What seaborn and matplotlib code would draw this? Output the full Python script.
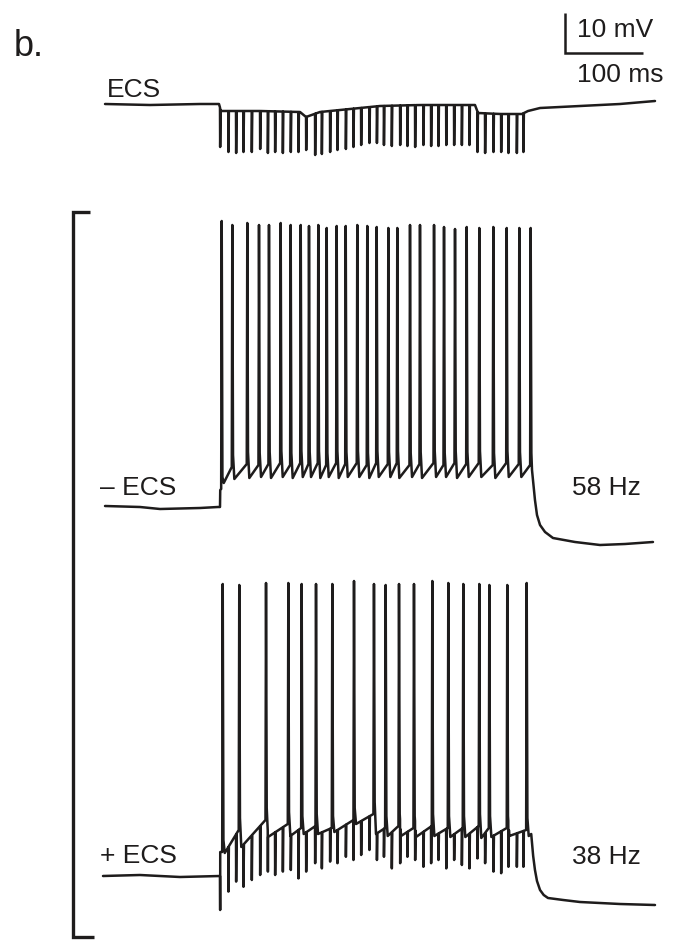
import numpy as np
import pandas as pd
import matplotlib
matplotlib.use("Agg")
import matplotlib.pyplot as plt
import seaborn as sns

# ---------------------------------------------------------------------------
# Recording values. Time in ms from the onset of the 400 ms current step,
# voltage in mV relative to the resting level of each trace.
# ---------------------------------------------------------------------------

# onsets of the extracellular stimulation (ECS) pulses
stim_times = [0.0, 10.6, 20.5, 29.9, 40.6, 51.3, 61.2, 70.5, 80.4, 90.6,
              100.4, 110.3, 121.8, 130.4, 141.0, 150.4, 161.2, 170.9, 180.8, 191.4,
              201.0, 210.0, 220.1, 230.8, 240.1, 250.0, 260.6, 270.5, 279.9, 289.9,
              300.0, 309.9, 319.6, 329.9, 339.7, 350.4, 360.3, 369.6, 380.4, 388.8]

# ECS alone: slow level of the trace and the tip of each pulse artefact
ecs_level_t = [-147.4, -89.7, -25.6, -1.3, 1.3, 51.3, 102.6, 110.3, 128.2, 166.7,
               205.1, 256.4, 326.9, 330.8, 359.0, 387.2, 394.9, 410.3, 461.5, 512.8, 557.7]
ecs_level_v = [0.25, 0.0, 0.25, 0.25, -1.5, -1.5, -1.75, -3.0, -1.75, -1.0,
               -0.25, 0.0, 0.0, -2.0, -2.25, -2.25, -1.5, -0.75, -0.25, 0.25, 1.0]
ecs_pulse_tip = [-10.5, -11.75, -12.0, -11.75, -11.75, -11.0, -12.0, -11.75, -12.0, -11.75,
                 -11.75, -11.25, -12.5, -12.25, -11.75, -11.25, -11.0, -10.5, -10.0, -9.5,
                 -9.5, -10.0, -10.25, -10.0, -10.25, -10.5, -10.0, -10.25, -10.25, -10.0,
                 -10.0, -10.0, -10.0, -11.75, -12.0, -11.75, -11.75, -12.0, -12.0, -11.75]

# current step without ECS (58 Hz)
ctrl_pre_t = [-147.4, -102.6, -76.9, -25.6, -2.6, 0.0]
ctrl_pre_v = [0.25, 0.0, -0.5, -0.25, 0.0, 0.0]
ctrl_step_v = 4.25
ctrl_spike_t = [2.2, 15.8, 35.0, 50.0, 62.8, 77.8, 90.6, 103.5, 114.1, 126.0,
                136.8, 149.6, 161.2, 176.0, 188.8, 200.9, 215.8, 227.3, 243.6, 256.4,
                274.4, 287.2, 301.3, 316.3, 332.4, 350.4, 367.6, 383.7, 398.3]
ctrl_spike_peak = [71.5, 70.5, 71.0, 70.5, 70.5, 71.0, 70.5, 70.5, 70.25, 70.5,
                   69.75, 70.25, 70.25, 70.5, 70.25, 70.0, 69.75, 69.75, 70.5, 70.5,
                   70.5, 70.0, 69.5, 70.0, 69.75, 70.0, 69.75, 69.75, 69.75]
ctrl_spike_thr = [4.5, 10.0, 10.75, 10.5, 10.75, 11.0, 10.5, 11.0, 10.75, 11.0,
                  10.5, 11.0, 10.75, 11.0, 10.5, 11.0, 10.75, 11.0, 10.5, 10.75,
                  11.0, 10.5, 11.0, 10.75, 11.0, 10.5, 11.0, 10.75, 10.5]
ctrl_ahp = [6.0, 7.0, 7.25, 7.5, 7.25, 7.5, 7.25, 7.5, 7.5, 7.25,
            7.5, 7.25, 7.5, 7.5, 7.25, 7.5, 7.5, 7.25, 7.5, 7.25,
            7.5, 7.5, 7.25, 7.5, 7.5, 7.25, 7.5, 7.5]
ctrl_tail_t = [400.0, 403.8, 406.4, 410.3, 416.7, 426.9, 455.1, 487.2, 519.2, 555.1]
ctrl_tail_v = [9.25, 1.75, -2.0, -4.5, -6.25, -7.75, -8.75, -9.5, -9.25, -8.75]

# current step with ECS (38 Hz)
ecs_on_pre_t = [-150.0, -102.6, -51.3, -3.8, 0.0]
ecs_on_pre_v = [0.0, 0.25, -0.25, 0.0, 0.0]
ecs_on_step_v = 6.0
ecs_on_spike_t = [3.5, 24.7, 59.0, 87.6, 104.7, 123.1, 144.0, 171.8, 197.4, 212.4,
                  229.5, 248.7, 272.2, 292.7, 311.9, 332.4, 345.3, 368.3, 393.2]
ecs_on_spike_peak = [73.0, 72.75, 73.25, 73.25, 73.0, 73.0, 73.0, 73.75, 73.0, 72.75,
                     73.0, 73.0, 73.75, 73.25, 73.0, 73.0, 72.75, 72.75, 73.25]
ecs_on_spike_thr = [6.0, 11.5, 14.0, 13.0, 12.0, 12.5, 12.0, 14.0, 15.5, 12.0,
                    12.5, 12.0, 12.5, 12.0, 12.0, 12.5, 12.0, 12.0, 11.5]
ecs_on_ahp = [5.75, 7.25, 9.75, 10.0, 10.5, 10.5, 11.0, 13.0, 10.5, 10.0,
              10.0, 9.75, 10.0, 9.75, 9.75, 9.5, 9.75, 10.0]
ecs_on_tail_t = [395.8, 399.0, 401.5, 403.8, 406.4, 410.3, 415.0, 420.5, 440.0, 461.5, 512.8, 557.7]
ecs_on_tail_v = [10.0, 10.5, 5.0, 1.5, -1.25, -3.5, -4.75, -5.5, -6.0, -6.5, -7.0, -7.25]
ecs_on_pulse_tip = [-8.5, -3.9, -1.4, -2.7, -1.0, 0.25, 1.1, 0.25, 1.1, 1.5,
                    -0.6, 1.1, 3.2, 1.9, 3.6, 3.2, 4.8, 4.0, 5.25, 6.5,
                    4.0, 4.8, 1.9, 3.2, 4.8, 4.0, 2.3, 3.2, 4.0, 1.9,
                    4.0, 2.75, 1.9, 4.4, 3.2, 1.1, 0.7, 2.3, 2.3, 2.3]

# labels
trace_names = ["ECS", "\u2013 ECS", "+ ECS"]
rate_labels = ["58 Hz", "38 Hz"]
scale_mv = 10
scale_ms = 100


# ---------------------------------------------------------------------------
# helpers that turn the values above into polylines
# ---------------------------------------------------------------------------
def spiking_trace(pre_t, pre_v, step_v, sp_t, sp_peak, sp_thr, ahp, tail_t, tail_v):
    t = list(pre_t)
    v = list(pre_v)
    t.append(0.3)
    v.append(step_v)
    for i, (ts, pk, th) in enumerate(zip(sp_t, sp_peak, sp_thr)):
        t += [ts - 0.7, ts, ts + 0.9]
        v += [th, pk, th + 3.0]
        if i < len(ahp):
            t.append(ts + 2.6)
            v.append(ahp[i])
    t += list(tail_t)
    v += list(tail_v)
    return np.asarray(t, float), np.asarray(v, float)


def with_pulses(t, v, times, tips):
    extra_t, extra_v = [], []
    for ts, tip in zip(times, tips):
        extra_t += [ts, ts + 0.2, ts + 0.8]
        extra_v += [np.interp(ts, t, v), tip, np.interp(ts + 0.8, t, v)]
    all_t = np.concatenate([t, extra_t])
    all_v = np.concatenate([v, extra_v])
    order = np.argsort(all_t, kind="stable")
    return all_t[order], all_v[order]


ecs_t, ecs_v = with_pulses(np.asarray(ecs_level_t, float), np.asarray(ecs_level_v, float),
                           stim_times, ecs_pulse_tip)
ctrl_t, ctrl_v = spiking_trace(ctrl_pre_t, ctrl_pre_v, ctrl_step_v, ctrl_spike_t,
                               ctrl_spike_peak, ctrl_spike_thr, ctrl_ahp,
                               ctrl_tail_t, ctrl_tail_v)
on_t, on_v = spiking_trace(ecs_on_pre_t, ecs_on_pre_v, ecs_on_step_v, ecs_on_spike_t,
                           ecs_on_spike_peak, ecs_on_spike_thr, ecs_on_ahp,
                           ecs_on_tail_t, ecs_on_tail_v)
on_t, on_v = with_pulses(on_t, on_v, stim_times, ecs_on_pulse_tip)

# vertical placement of the three sweeps (mV on the shared axis)
offsets = [-26.25, -126.75, -219.0]
frames = []
for name, (tt, vv), off in zip(trace_names, [(ecs_t, ecs_v), (ctrl_t, ctrl_v), (on_t, on_v)], offsets):
    frames.append(pd.DataFrame({"time": tt, "v": vv + off, "sweep": name,
                                "idx": np.arange(len(tt))}))
df = pd.concat(frames, ignore_index=True)

# ---------------------------------------------------------------------------
# drawing
# ---------------------------------------------------------------------------
sns.set_theme(style="white")
plt.rcParams["font.family"] = ["Liberation Sans", "DejaVu Sans"]
ink = "#1e1c1c"

W, H = 678, 952
fig = plt.figure(figsize=(W / 100, H / 100), dpi=100)
ax = fig.add_axes([0, 0, 1, 1])
ax.set_xlim(-282.05, 587.18)
ax.set_ylim(-238.0, 0.0)
ax.axis("off")

sns.lineplot(data=df, x="time", y="v", units="sweep", estimator=None, sort=False,
             color=ink, lw=1.8, legend=False, ax=ax)


def fx(px):
    return px / W


def fy(py):
    return 1 - py / H


txt = dict(transform=ax.transAxes, ha="left", va="baseline", color=ink, fontsize=19)
ax.text(fx(14), fy(56), "b.", **{**txt, "fontsize": 26})
ax.text(fx(107), fy(97), trace_names[0], **txt)
ax.text(fx(100), fy(495), trace_names[1], **txt)
ax.text(fx(100), fy(863), trace_names[2], **txt)
ax.text(fx(572), fy(495), rate_labels[0], **txt)
ax.text(fx(572), fy(864), rate_labels[1], **txt)
ax.text(fx(577), fy(37), f"{scale_mv} mV", **txt)
ax.text(fx(577), fy(82), f"{scale_ms} ms", **txt)

# scale bar
sb_x, sb_y = 442.3, -13.25
ax.plot([sb_x, sb_x, sb_x + scale_ms], [sb_y + scale_mv, sb_y, sb_y],
        color=ink, lw=1.8, solid_joinstyle="miter", solid_capstyle="butt")

# bracket grouping the two current-step sweeps
br_x, br_top, br_bot = -188.8, -53.0, -234.25
ax.plot([-167.1, br_x, br_x, -162.0], [br_top, br_top, br_bot, br_bot],
        color=ink, lw=2.4, solid_joinstyle="miter", solid_capstyle="butt")

fig.savefig("out.png", dpi=100, facecolor="white")
